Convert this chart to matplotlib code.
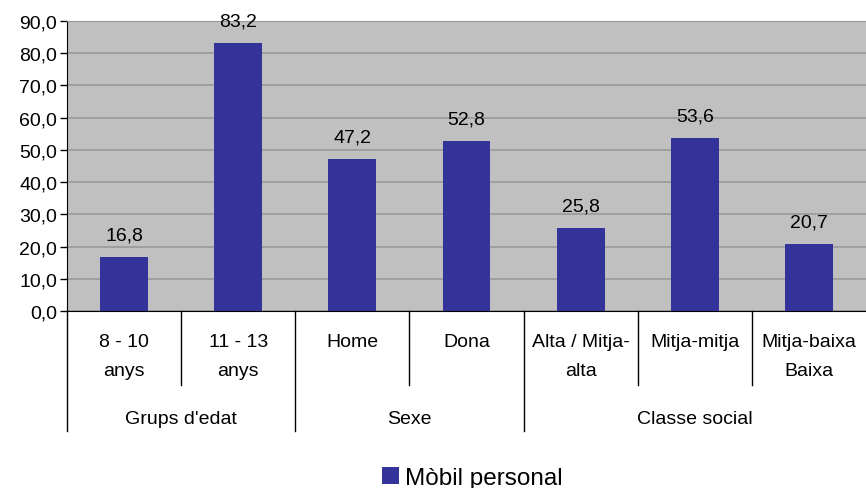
import matplotlib.pyplot as plt

# Mobile phone ownership by age group, sex and social class
categories = ["8 - 10\nanys", "11 - 13\nanys", "Home", "Dona",
              "Alta / Mitja-\nalta", "Mitja-mitja", "Mitja-baixa\nBaixa"]
values = [16.8, 83.2, 47.2, 52.8, 25.8, 53.6, 20.7]
groups = ["Grups d'edat", "Sexe", "Classe social"]
group_sizes = [2, 2, 3]
series_name = "Mòbil personal"

plt.rcParams['font.family'] = ['Liberation Sans', 'DejaVu Sans']
fs = 14

fig = plt.figure(figsize=(8.66, 4.89), dpi=100)
ax = fig.add_axes([67 / 866, 177 / 489, 799 / 866, 290 / 489])
ax.set_facecolor('#C0C0C0')

x = list(range(len(categories)))
bars = ax.bar(x, values, width=0.42, color='#333399', zorder=3, label=series_name)
for xi, v in zip(x, values):
    ax.text(xi, v + 4.3, f"{v:.1f}".replace('.', ','), ha='center', va='bottom',
            fontsize=fs, color='black')

ax.set_xlim(-0.5, len(categories) - 0.5)
ax.set_ylim(0, 90)
ax.set_yticks(range(0, 91, 10))
ax.set_yticklabels([f"{t},0" for t in range(0, 91, 10)], fontsize=fs)
ax.yaxis.grid(True, color='#999999', linewidth=1.2, zorder=1)
ax.tick_params(axis='y', length=5, width=1, pad=2)
ax.set_xticks([])

ax.spines['right'].set_visible(False)
ax.spines['top'].set_color('#999999')
ax.spines['bottom'].set_color('black')
ax.spines['left'].set_color('black')

# two-level category axis drawn below the plot
tr = ax.get_xaxis_transform()
for xi, lab in zip(x, categories):
    ax.text(xi, -0.075, lab, transform=tr, ha='center', va='top',
            fontsize=fs, linespacing=1.95)

start = 0
bounds = [-0.5]
for g, n in zip(groups, group_sizes):
    mid = start + (n - 1) / 2
    ax.text(mid, -0.37, g, transform=tr, ha='center', va='center', fontsize=fs)
    for k in range(1, n):
        b = start + k - 0.5
        ax.plot([b, b], [0, -0.255], transform=tr, color='black', lw=1, clip_on=False)
    start += n
    bounds.append(start - 0.5)
for b in bounds[:-1]:
    ax.plot([b, b], [0, -0.414], transform=tr, color='black', lw=1, clip_on=False)

fig.legend(handles=[bars], labels=[series_name], loc='center',
           bbox_to_anchor=(472 / 866, 1 - 479 / 489), frameon=False,
           fontsize=17.5, handlelength=0.7, handleheight=0.7, handletextpad=0.25)

fig.savefig('out.png', dpi=100)
